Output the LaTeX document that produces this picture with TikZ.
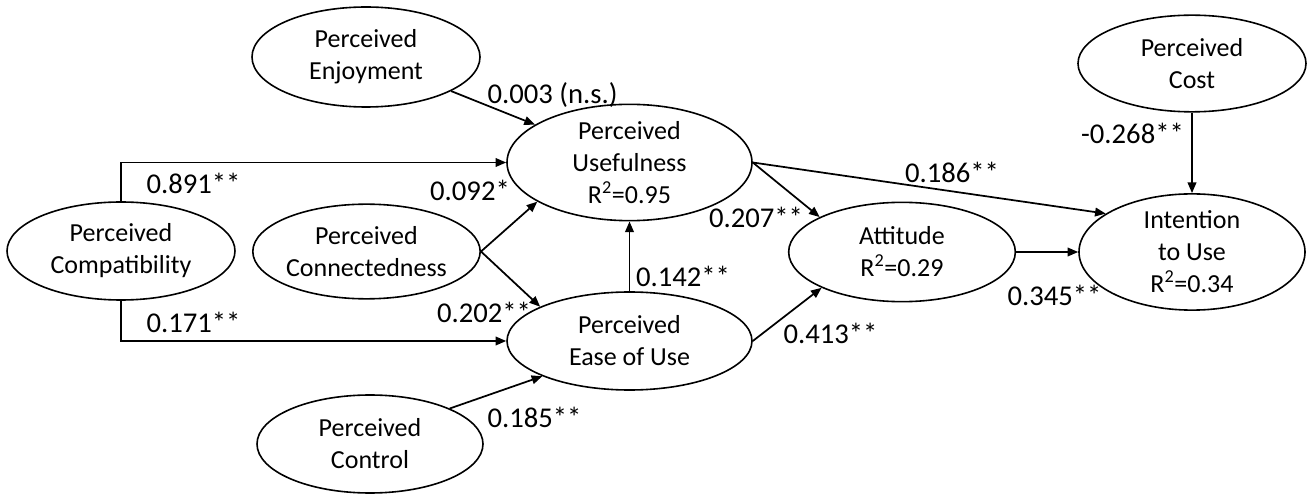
\documentclass[tikz,border=0pt]{standalone}
\usepackage{fontspec}
\setmainfont{Carlito}
\usetikzlibrary{shapes.geometric,arrows.meta}
\tikzset{
  latent/.style={ellipse, draw=black, line width=1.2pt, inner sep=0pt, align=center,
    font=\fontsize{19.5}{24}\selectfont},
  coef/.style={inner sep=0pt, font=\fontsize{21.5}{26}\selectfont},
  path/.style={draw=black, line width=1.3pt, -{Triangle[length=8pt,width=6.5pt]}},
}
\begin{document}
\begin{tikzpicture}[x=0.75pt,y=-0.75pt]
\useasboundingbox (0,0) rectangle (1307,495);
% nodes
\node[latent, minimum width=171pt, minimum height=75pt] (enj) at (366,57) {Perceived\\Enjoyment};
\node[latent, minimum width=183.75pt, minimum height=74.5pt] (pu) at (629.5,162.5) {Perceived\\Usefulness\\R\textsuperscript{2}=0.95};
\node[latent, minimum width=171pt, minimum height=73.5pt] (compat) at (121,251) {Perceived\\Compatibility};
\node[latent, minimum width=170pt, minimum height=71pt] (conn) at (366.5,251.5) {Perceived\\Connectedness};
\node[latent, minimum width=183.75pt, minimum height=73.5pt] (peou) at (629.5,341) {Perceived\\Ease of Use};
\node[latent, minimum width=169.5pt, minimum height=73.5pt] (ctrl) at (370,444) {Perceived\\Control};
\node[latent, minimum width=170pt, minimum height=74.5pt] (att) at (902,252) {Attitude\\R\textsuperscript{2}=0.29};
\node[latent, minimum width=169.5pt, minimum height=75pt] (int) at (1192,252) {Intention\\to Use\\R\textsuperscript{2}=0.34};
\node[latent, minimum width=171pt, minimum height=72.5pt] (cost) at (1192,63.5) {Perceived\\Cost};
% connectors
\draw[path] (enj) -- (pu);
\draw[path] (compat.north) |- (pu.west);
\draw[path] (compat.south) |- (peou.west);
\draw[path] (conn.east) -- (pu.203);
\draw[path] (conn.east) -- (peou.159);
\draw[path] (ctrl.24) -- (peou.202);
\draw[path] (peou.north) -- (pu.south);
\draw[path] (pu.east) -- (att.157);
\draw[path] (pu.east) -- (int.156);
\draw[path] (peou.east) -- (att.204);
\draw[path] (att.east) -- (int.west);
\draw[path] (cost.south) -- (int.north);
% coefficients
\node[coef] (l1) at (552.5,95) {0.003 (n.s.)};
\node[coef] (l2) at (193.5,183) {0.891**};
\node[coef] (l3) at (470,190) {0.092*};
\node[coef] (l4) at (193.5,322) {0.171**};
\node[coef] (l5) at (484,312) {0.202**};
\node[coef] (l6) at (534.5,417) {0.185**};
\node[coef] (l7) at (683,276) {0.142**};
\node[coef] (l8) at (1132.5,133) {-0.268**};
\node[coef] (l9) at (952,172) {0.186**};
\node[coef] (l10) at (756,217) {0.207**};
\node[coef] (l11) at (830.5,333) {0.413**};
\node[coef] (l12) at (1054.5,295) {0.345**};
\end{tikzpicture}
\end{document}
